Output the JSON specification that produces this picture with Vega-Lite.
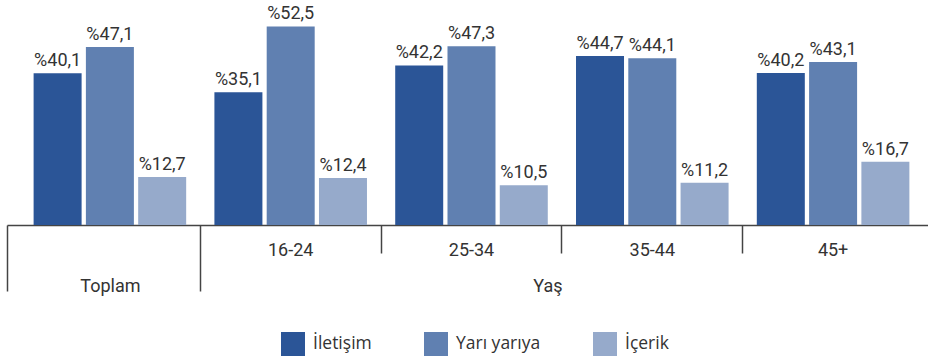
{
  "$schema": "https://vega.github.io/schema/vega-lite/v6.json",
  "width": 921,
  "height": 225,
  "autosize": {"type": "none"},
  "padding": {"left": 7, "top": 0, "right": 0, "bottom": 137},
  "config": {
    "view": {"stroke": null},
    "locale": {"number": {"decimal": ",", "thousands": ".", "grouping": [3], "currency": ["%", ""]}},
    "font": "Roboto"
  },
  "data": {
    "values": [
      {"grup": "Toplam", "seri": "İletişim", "deger": 40.1},
      {"grup": "Toplam", "seri": "Yarı yarıya", "deger": 47.1},
      {"grup": "Toplam", "seri": "İçerik", "deger": 12.7},
      {"grup": "16-24", "seri": "İletişim", "deger": 35.1},
      {"grup": "16-24", "seri": "Yarı yarıya", "deger": 52.5},
      {"grup": "16-24", "seri": "İçerik", "deger": 12.4},
      {"grup": "25-34", "seri": "İletişim", "deger": 42.2},
      {"grup": "25-34", "seri": "Yarı yarıya", "deger": 47.3},
      {"grup": "25-34", "seri": "İçerik", "deger": 10.5},
      {"grup": "35-44", "seri": "İletişim", "deger": 44.7},
      {"grup": "35-44", "seri": "Yarı yarıya", "deger": 44.1},
      {"grup": "35-44", "seri": "İçerik", "deger": 11.2},
      {"grup": "45+", "seri": "İletişim", "deger": 40.2},
      {"grup": "45+", "seri": "Yarı yarıya", "deger": 43.1},
      {"grup": "45+", "seri": "İçerik", "deger": 16.7}
    ]
  },
  "encoding": {
    "xOffset": {
      "field": "seri", "type": "nominal",
      "sort": ["İletişim", "Yarı yarıya", "İçerik"],
      "scale": {"paddingInner": 0.082, "paddingOuter": 0.27}
    },
    "y": {
      "field": "deger", "type": "quantitative",
      "scale": {"domain": [0, 59.5], "nice": false, "zero": true},
      "axis": null
    }
  },
  "layer": [
    {
      "mark": {"type": "bar"},
      "encoding": {
        "x": {
          "field": "grup", "type": "nominal",
          "sort": ["Toplam", "16-24", "25-34", "35-44", "45+"],
          "scale": {"paddingInner": 0, "paddingOuter": 0.047, "align": 0.735},
          "axis": {
            "orient": "bottom", "title": null,
            "domain": true, "domainColor": "#444444", "domainWidth": 1.5,
            "bandPosition": 0,
            "ticks": true, "tickSize": 66, "tickWidth": 1.5, "tickColor": "#444444",
            "tickOpacity": {"condition": {"test": "datum.value === 'Toplam'", "value": 0}, "value": 1},
            "tickDash": {"condition": {"test": "datum.value === '16-24'", "value": [80, 1]}, "value": [28, 200]},
            "labelExpr": "datum.value === 'Toplam' ? '' : datum.label",
            "labelFont": "Roboto", "labelFontSize": 18, "labelColor": "#333333",
            "labelBaseline": "alphabetic", "labelPadding": -36, "labelAngle": 0
          }
        },
        "color": {
          "field": "seri", "type": "nominal",
          "sort": ["İletişim", "Yarı yarıya", "İçerik"],
          "scale": {"domain": ["İletişim", "Yarı yarıya", "İçerik"], "range": ["#2B5597", "#6080B1", "#96AACB"]},
          "legend": {
            "title": null, "orient": "none", "legendX": 274, "legendY": 332,
            "direction": "horizontal", "columns": 3, "columnPadding": 52, "padding": 0,
            "symbolType": "square", "symbolSize": 576, "symbolStrokeWidth": 0, "symbolOpacity": 1,
            "labelFont": "Open Sans", "labelFontSize": 17.5, "labelColor": "#333333", "labelOffset": 8
          }
        }
      }
    },
    {
      "mark": {"type": "text", "align": "center", "baseline": "alphabetic", "dy": -7, "font": "Roboto", "fontSize": 18, "color": "#333333"},
      "encoding": {
        "x": {
          "field": "grup", "type": "nominal",
          "sort": ["Toplam", "16-24", "25-34", "35-44", "45+"],
          "axis": {
            "orient": "bottom", "title": null, "domain": false,
            "bandPosition": 0, "tickOffset": -12.5,
            "ticks": true, "tickSize": 66, "tickWidth": 1.5, "tickColor": "#444444",
            "tickOpacity": {"condition": {"test": "datum.value === 'Toplam'", "value": 1}, "value": 0},
            "labelExpr": "datum.value === 'Toplam' ? 'Toplam' : datum.value === '35-44' ? 'Yaş' : ''",
            "labelOffset": {"condition": {"test": "datum.value === 'Toplam'", "value": 12.5}, "value": -92.3},
            "labelFont": "Roboto", "labelFontSize": 18, "labelColor": "#333333",
            "labelBaseline": "alphabetic", "labelPadding": 0, "labelAngle": 0
          }
        },
        "text": {"field": "deger", "type": "quantitative", "format": "$.1f"}
      }
    }
  ],
  "resolve": {"axis": {"x": "independent"}}
}
